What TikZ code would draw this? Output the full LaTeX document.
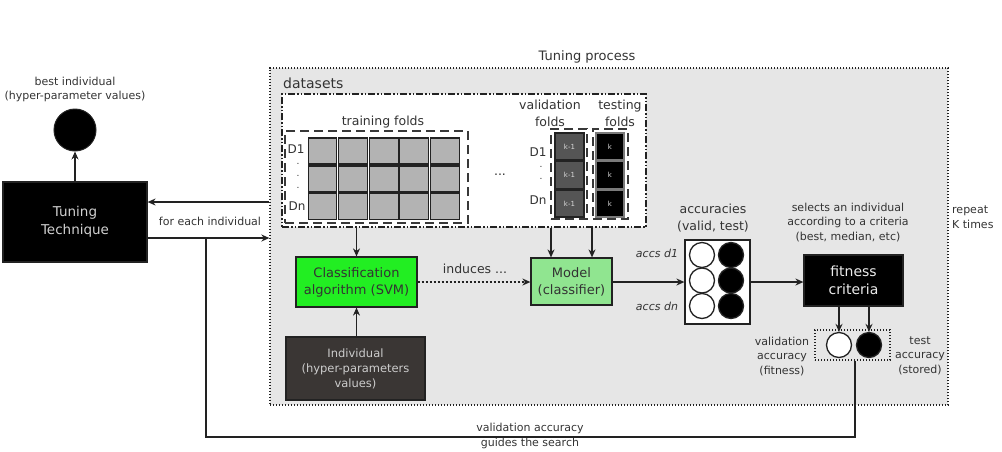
\documentclass[tikz,border=0pt]{standalone}
\usepackage{fontspec}
\setmainfont{DejaVu Sans}
\usetikzlibrary{arrows.meta,calc}
\definecolor{bggray}{HTML}{E6E6E6}
\definecolor{cellgray}{HTML}{B3B3B3}
\definecolor{valgray}{HTML}{555555}
\definecolor{clsgreen}{HTML}{22EE22}
\definecolor{modgreen}{HTML}{90E590}
\definecolor{indgray}{HTML}{3A3634}
\definecolor{txt}{HTML}{333333}
\definecolor{edge}{HTML}{222222}
\tikzset{
  lbl/.style={font=\fontsize{11}{14.5}\selectfont, text=txt, align=center, inner sep=0pt},
  mlbl/.style={font=\fontsize{12.5}{16.5}\selectfont, text=txt, align=center, inner sep=0pt},
  arr/.style={-{Stealth[length=8pt,width=7pt]}, line width=1.3pt, draw=edge},
  conn/.style={line width=1.3pt, draw=edge},
  box/.style={draw=edge, line width=1.2pt, inner sep=0pt, align=center},
  dotbox/.style={draw=edge, line width=1.3pt, dash pattern=on 1.3pt off 1.7pt, inner sep=0pt},
  dashbox/.style={draw=edge!90, line width=1.4pt, dash pattern=on 9pt off 5pt, inner sep=0pt},
  dashdotbox/.style={draw=edge, line width=1.5pt, dash pattern=on 7pt off 2pt on 1.5pt off 2pt on 1.5pt off 2pt, inner sep=0pt},
  tcell/.style={draw=edge, line width=1.1pt, fill=cellgray, minimum width=28.5pt, minimum height=26pt, inner sep=0pt},
  vcell/.style={draw=edge, line width=1.1pt, fill=valgray, minimum width=29pt, minimum height=27pt, inner sep=0pt, text=white!85!black, font=\fontsize{7}{8}\selectfont},
  kcell/.style={draw=edge!60, line width=1.1pt, fill=black, minimum width=28pt, minimum height=27pt, inner sep=0pt, text=white!85!black, font=\fontsize{7}{8}\selectfont},
  wcirc/.style={circle, draw=edge, line width=1.3pt, fill=white, minimum size=25pt, inner sep=0pt},
  bcirc/.style={circle, draw=edge, line width=1.3pt, fill=black, minimum size=25pt, inner sep=0pt},
  dotlbl/.style={font=\fontsize{9}{10}\selectfont, text=txt, inner sep=0pt},
}
\begin{document}
\begin{tikzpicture}[x=1pt,y=-1pt]
\useasboundingbox (0,0) rectangle (1002,451);
% tuning process area
\node[dotbox, fill=bggray, minimum width=678pt, minimum height=337pt] (tp) at (609,236.5) {};
\node[mlbl, font=\fontsize{13}{16}\selectfont] (tplbl) at (587,57) {Tuning process};
% datasets box
\node[dashdotbox, fill=white, minimum width=364pt, minimum height=133pt] (ds) at (464,160.5) {};
\node[font=\fontsize{14}{16}\selectfont, text=txt, inner sep=0pt, anchor=west] (dslbl) at (283,83) {datasets};
% training folds
\node[dashbox, minimum width=183pt, minimum height=92pt] (tr) at (376.5,177) {};
\node[mlbl] (trlbl) at (383,122) {training folds};
\foreach \c [count=\i] in {322.5,353,384,414,445}{
  \foreach \r [count=\j] in {151,179,206.5}{
    \node[tcell] (t\i\j) at (\c,\r) {};
  }
}
\node[mlbl, font=\fontsize{12}{14}\selectfont] (trd1) at (296,149) {D1};
\node[mlbl, font=\fontsize{12}{14}\selectfont] (trdn) at (297,206) {Dn};
\node[dotlbl] (trdot1) at (298,164) {.};
\node[dotlbl] (trdot2) at (298,176) {.};
\node[dotlbl] (trdot3) at (298,188) {.};
\node[mlbl] (ell) at (500,175) {...};
% validation folds
\node[dashbox, minimum width=36pt, minimum height=90pt] (vb) at (569,174) {};
\node[mlbl] (vblbl) at (550,113.5) {validation\\folds};
\foreach \r [count=\j] in {146.5,175,203.5}{
  \node[vcell] (v\j) at (569.5,\r) {k-1};
}
\node[mlbl, font=\fontsize{12}{14}\selectfont] (vd1) at (538,152) {D1};
\node[mlbl, font=\fontsize{12}{14}\selectfont] (vdn) at (538,200) {Dn};
\node[dotlbl] (vdot1) at (541,167) {.};
\node[dotlbl] (vdot2) at (541,179) {.};
% testing folds
\node[dashbox, minimum width=35pt, minimum height=90pt] (kb) at (610.5,174) {};
\node[mlbl] (kblbl) at (620,113.5) {testing\\folds};
\foreach \r [count=\j] in {146.5,175,203.5}{
  \node[kcell] (k\j) at (610,\r) {k};
}
% classification, individual, model
\node[box, fill=clsgreen, minimum width=121pt, minimum height=50pt, font=\fontsize{13}{17}\selectfont, text=txt] (cls) at (356.5,282) {Classification\\algorithm (SVM)};
\node[box, fill=indgray, minimum width=139pt, minimum height=63pt, font=\fontsize{11.5}{15}\selectfont, text=white!80!black] (ind) at (355.5,368.5) {Individual\\(hyper-parameters\\values)};
\node[box, fill=modgreen, minimum width=81pt, minimum height=47pt, font=\fontsize{13}{17}\selectfont, text=txt] (mod) at (571.5,281.5) {Model\\(classifier)};
\node[mlbl] (indlbl) at (475,269) {induces ...};
% accuracies
\node[box, fill=white, minimum width=65pt, minimum height=84pt] (acc) at (717.5,282) {};
\foreach \r [count=\j] in {255,280.5,306}{
  \node[wcirc] (aw\j) at (702,\r) {};
  \node[bcirc] (ab\j) at (731,\r) {};
}
\node[mlbl] (acclbl) at (713,218) {accuracies\\(valid, test)};
\node[lbl, font=\fontsize{11}{14}\itshape] (ad1) at (657,253) {accs d1};
\node[lbl, font=\fontsize{11}{14}\itshape] (adn) at (657,306) {accs dn};
% fitness
\node[box, fill=black, minimum width=99pt, minimum height=51pt, font=\fontsize{14}{17.5}\selectfont, text=white!92!black] (fit) at (853.5,280.5) {fitness\\criteria};
\node[lbl] (sel) at (848,222.5) {selects an individual\\according to a criteria\\(best, median, etc)};
\node[dotbox, minimum width=75pt, minimum height=30pt] (sb) at (852.5,345) {};
\node[wcirc] (sw) at (839,345) {};
\node[bcirc] (sk) at (869,345) {};
\node[lbl] (vallbl) at (782,356.5) {validation\\accuracy\\(fitness)};
\node[lbl] (testlbl) at (920,355.5) {test\\accuracy\\(stored)};
\node[lbl, align=left, anchor=west] (rep) at (952,217) {repeat\\K times};
% tuning technique
\node[box, fill=black, minimum width=144pt, minimum height=80pt, font=\fontsize{13.5}{17.5}\selectfont, text=white!82!black] (tt) at (75,222) {Tuning\\Technique};
\node[circle, fill=black, draw=edge, line width=1pt, minimum size=42pt, inner sep=0pt] (best) at (75,130) {};
\node[lbl] (bestlbl) at (75,89.5) {best individual\\(hyper-parameter values)};
\node[lbl] (fei) at (210,221) {for each individual};
\node[lbl, font=\fontsize{11}{15}\selectfont] (gds) at (530,436) {validation accuracy\\guides the search};
% helper coordinates
\coordinate (yret) at (0,202);
\coordinate (yfwd) at (0,238);
\coordinate (fb) at (206,238);
\coordinate (ybot) at (0,437);
\coordinate (ma) at ($(mod.north)+(-20.5,0)$);
\coordinate (mb) at ($(mod.north)+(20.5,0)$);
\coordinate (sbo) at ($(sb.south)+(2.5,0)$);
% connectors
\draw[arr] (tt.north) -- (best.south);
\draw[arr] (tp.west |- yret) -- (tt.east |- yret);
\draw[arr] (tt.east |- yfwd) -- (tp.west |- yfwd);
\draw[arr] (cls.north |- ds.south) -- (cls.north);
\draw[arr] (ind.north -| cls.south) -- (cls.south);
\draw[arr, dash pattern=on 2pt off 2pt] (cls.east) -- (mod.west |- cls.east);
\draw[arr] (ma |- ds.south) -- (ma);
\draw[arr] (mb |- ds.south) -- (mb);
\draw[arr] (mod.east |- acc.west) -- (acc.west);
\draw[arr] (acc.east) -- (fit.west |- acc.east);
\draw[arr] (fit.south -| sw.north) -- (sw.north);
\draw[arr] (fit.south -| sk.north) -- (sk.north);
\draw[conn] (sbo) -- (sbo |- ybot) -| (fb);
\end{tikzpicture}
\end{document}
